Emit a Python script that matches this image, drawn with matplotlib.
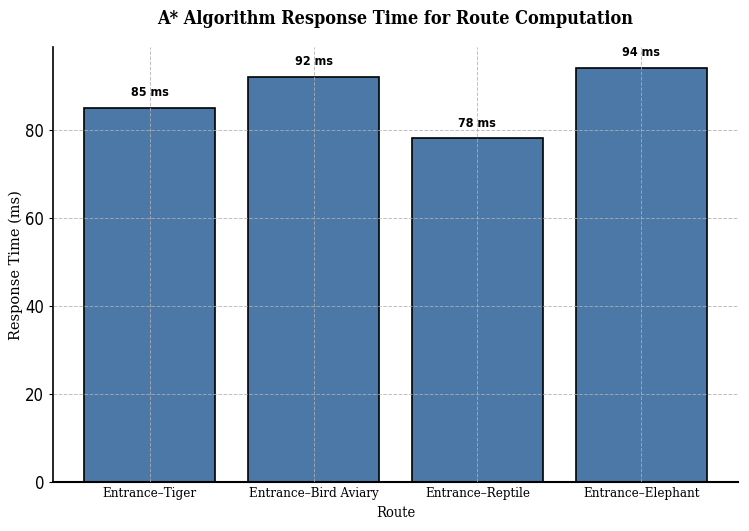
import matplotlib
matplotlib.use("Agg")
import matplotlib.pyplot as plt

# Route response times (ms)
routes = ['Entrance–Tiger', 'Entrance–Bird Aviary', 'Entrance–Reptile', 'Entrance–Elephant']
times = [85, 92, 78, 94]

fig, ax = plt.subplots(figsize=(7.49, 5.31), dpi=100)

bars = ax.bar(routes, times, width=0.8, color='#4c78a8', edgecolor='black', linewidth=1.2, zorder=2)

for b, v in zip(bars, times):
    ax.text(b.get_x() + b.get_width() / 2, v + 2, f'{v} ms', ha='center', va='bottom',
            fontsize=9, fontweight='bold', fontstretch='condensed', zorder=4)

ax.set_title('A* Algorithm Response Time for Route Computation', fontsize=13, fontweight='bold',
             family='DejaVu Serif', fontstretch='condensed', pad=17)
ax.set_xlabel('Route', family='DejaVu Serif', fontstretch='condensed', fontsize=10.5)
ax.set_ylabel('Response Time (ms)', family='DejaVu Serif', fontsize=10.5, labelpad=1.5)

ax.set_ylim(0, max(times) * 1.05)
ax.set_yticks([0, 20, 40, 60, 80])
ax.tick_params(axis='y', labelsize=12, length=3)
ax.tick_params(axis='x', length=0, labelsize=9.5)
for lab in ax.get_xticklabels():
    lab.set_family('DejaVu Serif')
    lab.set_fontstretch('condensed')
for lab in ax.get_yticklabels():
    lab.set_fontstretch('condensed')

ax.grid(True, linestyle='--', color='#b0b0b0', linewidth=0.7, alpha=0.8, zorder=3)
ax.set_axisbelow(False)
ax.spines['top'].set_visible(False)
ax.spines['right'].set_visible(False)
ax.spines['left'].set_linewidth(1.2)
ax.spines['bottom'].set_linewidth(1.5)

fig.subplots_adjust(left=0.071, right=0.985, top=0.911, bottom=0.092)
fig.savefig('out.png', dpi=100)
